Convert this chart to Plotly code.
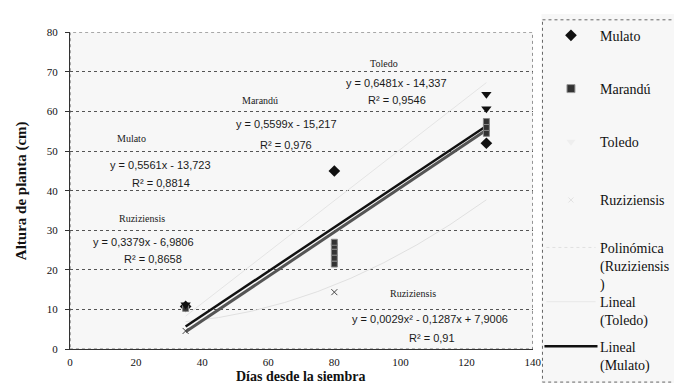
import plotly.graph_objects as go

# ---------------- data ----------------
mulato_x = [35, 80, 126]
mulato_y = [10.8, 45.0, 52.0]

marandu_x = [35, 80, 80, 80, 80, 80, 126, 126, 126]
marandu_y = [10.3, 21.5, 23.0, 24.5, 26.0, 27.0, 54.5, 56.0, 57.5]

toledo_x = [35, 126, 126]
toledo_y = [11.2, 60.7, 64.4]

ruzi_x = [35, 80]
ruzi_y = [4.6, 14.4]

# trend-line coefficients (from the printed equations)
mulato_lin = (0.5561, -13.723)
marandu_lin = (0.5599, -15.217)
toledo_lin = (0.6481, -14.337)
ruzi_poly = (0.0029, -0.1287, 7.9006)
fit_x = [35, 45, 55, 65, 75, 85, 95, 105, 115, 126]

x_ticks = [0, 20, 40, 60, 80, 100, 120, 140]
y_ticks = [0, 10, 20, 30, 40, 50, 60, 70, 80]

legend_names = ["Mulato", "Marandú", "Toledo", "Ruziziensis",
                "Polinómica<br>(Ruziziensis<br>)", "Lineal<br>(Toledo)",
                "Lineal<br>(Mulato)"]

labels = [
    # text, x, y, font kind
    ("Toledo", 95.1, 72.2, "serif"),
    ("y = 0,6481x - 14,337", 98.7, 67.3, "sans"),
    ("R² = 0,9546", 99.0, 62.9, "sans"),
    ("Marandú", 57.4, 62.9, "serif"),
    ("y = 0,5599x - 15,217", 65.4, 56.8, "sans"),
    ("R² = 0,976", 65.4, 51.5, "sans"),
    ("Mulato", 18.7, 53.2, "serif"),
    ("y = 0,5561x - 13,723", 27.4, 46.6, "sans"),
    ("R² = 0,8814", 27.6, 42.0, "sans"),
    ("Ruziziensis", 21.7, 32.9, "serif"),
    ("y = 0,3379x - 6,9806", 22.3, 27.1, "sans"),
    ("R² = 0,8658", 25.0, 22.7, "sans"),
    ("Ruziziensis", 103.7, 14.1, "serif"),
    ("y = 0,0029x² - 0,1287x + 7,9006", 108.8, 7.6, "sans"),
    ("R² = 0,91", 109.4, 2.9, "sans"),
]

# ---------------- layout geometry (pixels) ----------------
W, H = 682, 383
PL, PR, PT, PB = 60, 531, 19, 346          # main plot box
LG_X0 = 540                                # legend panel left edge
SERIF = "Liberation Serif, Times New Roman, serif"
SANS = "Liberation Sans, Arial, sans-serif"

# legend rows (pixel y of first text line) and glyph column
leg_rows = [22, 77, 132, 192, 241, 297, 343]
leg_sym_x = 570
leg_txt_x = 598

def lin(c, xs):
    return [c[0] * x + c[1] for x in xs]

def poly(c, xs):
    return [c[0] * x * x + c[1] * x + c[2] for x in xs]

fig = go.Figure()

# ---- trend lines (under markers) ----
fig.add_trace(go.Scatter(x=fit_x, y=poly(ruzi_poly, fit_x), mode="lines",
                         line=dict(color="#e0e0e0", width=1)))
fig.add_trace(go.Scatter(x=fit_x, y=lin(toledo_lin, fit_x), mode="lines",
                         line=dict(color="#e4e4e4", width=1)))
fig.add_trace(go.Scatter(x=fit_x, y=lin(marandu_lin, fit_x), mode="lines",
                         line=dict(color="#555555", width=3)))
fig.add_trace(go.Scatter(x=fit_x, y=lin(mulato_lin, fit_x), mode="lines",
                         line=dict(color="#111111", width=2.5)))

# ---- markers ----
mk_mulato = dict(symbol="diamond", size=9, color="#111111")
mk_marandu = dict(symbol="square", size=6, color="#333333",
                  line=dict(color="#888888", width=1))
mk_toledo = dict(symbol="triangle-down", size=9, color="#111111")
mk_ruzi = dict(symbol="x-thin-open", size=6, color="#444444",
               line=dict(color="#444444", width=1))

fig.add_trace(go.Scatter(x=mulato_x, y=mulato_y, mode="markers", marker=mk_mulato))
fig.add_trace(go.Scatter(x=marandu_x, y=marandu_y, mode="markers", marker=mk_marandu))
fig.add_trace(go.Scatter(x=toledo_x, y=toledo_y, mode="markers", marker=mk_toledo))
fig.add_trace(go.Scatter(x=ruzi_x, y=ruzi_y, mode="markers", marker=mk_ruzi))

# ---- legend glyphs (drawn on a helper pixel axis x2/y2) ----
fig.add_trace(go.Scatter(x=[leg_sym_x], y=[leg_rows[0]], mode="markers",
                         marker=mk_mulato, xaxis="x2", yaxis="y2"))
fig.add_trace(go.Scatter(x=[leg_sym_x], y=[leg_rows[1]], mode="markers",
                         marker=dict(symbol="square", size=8, color="#333333",
                                     line=dict(color="#999999", width=1)),
                         xaxis="x2", yaxis="y2"))
fig.add_trace(go.Scatter(x=[leg_sym_x], y=[leg_rows[2]], mode="markers",
                         marker=dict(symbol="triangle-down", size=8, color="#eeeeee"),
                         xaxis="x2", yaxis="y2"))
fig.add_trace(go.Scatter(x=[leg_sym_x], y=[leg_rows[3]], mode="markers",
                         marker=dict(symbol="x-thin-open", size=5, color="#e2e2e2",
                                     line=dict(color="#e2e2e2", width=1)),
                         xaxis="x2", yaxis="y2"))
fig.add_trace(go.Scatter(x=[545, 595], y=[leg_rows[4]] * 2, mode="lines",
                         line=dict(color="#e0e0e0", width=1, dash="dot"),
                         xaxis="x2", yaxis="y2"))
fig.add_trace(go.Scatter(x=[545, 595], y=[leg_rows[5]] * 2, mode="lines",
                         line=dict(color="#e8e8e8", width=1),
                         xaxis="x2", yaxis="y2"))
fig.add_trace(go.Scatter(x=[543, 597], y=[leg_rows[6]] * 2, mode="lines",
                         line=dict(color="#111111", width=2.5),
                         xaxis="x2", yaxis="y2"))

for name, yrow in zip(legend_names, leg_rows):
    fig.add_annotation(xref="x2", yref="y2", x=leg_txt_x, y=yrow - 9,
                       text=name, showarrow=False, xanchor="left", yanchor="top",
                       align="left",
                       font=dict(family=SERIF, size=14, color="#111111"))

# legend frame
fig.add_shape(type="rect", xref="x2", yref="y2", x0=541, x1=700, y0=6, y1=380,
              line=dict(color="#666666", width=1, dash="dot"))

# ---- in-plot labels ----
for text, x, y, kind in labels:
    fig.add_annotation(x=x, y=y, text=text, showarrow=False,
                       xanchor="center", yanchor="middle",
                       font=dict(family=SANS if kind == "sans" else SERIF,
                                 size=11 if kind == "sans" else 10,
                                 color="#1a1a1a"))

# x axis title
fig.add_annotation(xref="paper", yref="paper", x=(PL + PR) / 2 / W,
                   y=(H - 374) / H, text="<b>Días desde la siembra</b>",
                   showarrow=False, xanchor="center", yanchor="middle",
                   font=dict(family=SERIF, size=14, color="#111111"))

# dotted plot border
fig.add_shape(type="rect", xref="x", yref="y", x0=0, y0=0, x1=140, y1=80,
              line=dict(color="#444444", width=1, dash="dot"), layer="below")

fig.update_layout(
    width=W, height=H,
    margin=dict(l=0, r=0, t=0, b=0),
    paper_bgcolor="white",
    plot_bgcolor="#f7f7f7",
    showlegend=False,
    font=dict(family=SERIF, size=11, color="#111111"),
    xaxis=dict(domain=[PL / W, PR / W], anchor="y"),
    yaxis=dict(domain=[(H - PB) / H, (H - PT) / H], anchor="x"),
    xaxis2=dict(domain=[LG_X0 / W, 1], range=[LG_X0, W], anchor="y2",
                visible=False, fixedrange=True),
    yaxis2=dict(domain=[0, 1], range=[H, 0], anchor="x2",
                visible=False, fixedrange=True),
)

fig.update_xaxes(selector=dict(anchor="y"), range=[0, 140], tickvals=x_ticks,
                 showgrid=False, zeroline=False, showline=True,
                 linecolor="#333333", linewidth=1, ticks="", ticklabelstandoff=3,
                 tickfont=dict(family=SERIF, size=11, color="#111111"))
fig.update_yaxes(selector=dict(anchor="x"), range=[0, 80], tickvals=y_ticks,
                 showgrid=True, gridcolor="#555555", griddash="dot", gridwidth=1,
                 zeroline=False, showline=True, linecolor="#333333", linewidth=1,
                 ticks="outside", ticklen=4, tickcolor="#333333",
                 ticklabelstandoff=5,
                 tickfont=dict(family=SERIF, size=11, color="#111111"),
                 title=dict(text="<b>Altura de planta (cm)</b>", standoff=16,
                            font=dict(family=SERIF, size=15, color="#111111")))

fig.write_html("out.html")
